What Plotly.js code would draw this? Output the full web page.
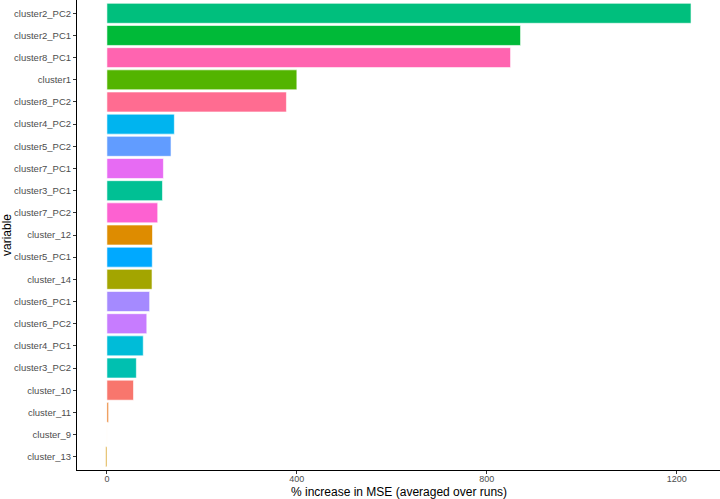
<!DOCTYPE html>
<html>
<head>
<meta charset="utf-8">
<script src="https://cdn.plot.ly/plotly-3.0.1.min.js"></script>
<style>
  html, body { margin: 0; padding: 0; background: #fff; }
  #chart { width: 720px; height: 499px; }
</style>
</head>
<body>
<div id="chart"></div>
<script>
// variables, top to bottom
const variables = [
  "cluster2_PC2", "cluster2_PC1", "cluster8_PC1", "cluster1", "cluster8_PC2",
  "cluster4_PC2", "cluster5_PC2", "cluster7_PC1", "cluster3_PC1", "cluster7_PC2",
  "cluster_12", "cluster5_PC1", "cluster_14", "cluster6_PC1", "cluster6_PC2",
  "cluster4_PC1", "cluster3_PC2", "cluster_10", "cluster_11", "cluster_9", "cluster_13"
];

// % increase in MSE (averaged over runs)
const mseIncrease = [
  1230, 871, 850, 400, 378,
  142, 135, 119, 117, 107,
  96, 95.5, 95, 90, 84,
  76.5, 62, 56, 3.5, 0.3, -2.5
];

// ggplot hue colours per variable
const barColors = [
  "#00BF7D", "#00BA38", "#FF64B0", "#53B400", "#FF6C91",
  "#00B4EF", "#619CFF", "#E76BF3", "#00C094", "#FD61D1",
  "#DE8C00", "#00A9FF", "#A3A500", "#A58AFF", "#C77CFF",
  "#00BCD8", "#00C0B0", "#F8766D", "#EA8331", "#F5E9B0", "#D39200"
];

const xTicks = [0, 400, 800, 1200];

const trace = {
  type: 'bar',
  orientation: 'h',
  y: variables,
  x: mseIncrease,
  marker: {
    color: barColors,
    line: { color: '#ffffff', width: 0.6 }
  },
  hoverinfo: 'x+y'
};

const axisFont = { family: 'Liberation Sans, Arial, sans-serif', size: 9.5, color: '#4D4D4D' };
const titleFont = { family: 'Liberation Sans, Arial, sans-serif', size: 12, color: '#000' };

const layout = {
  width: 720,
  height: 499,
  margin: { l: 77, r: 0, t: 0, b: 29 },
  paper_bgcolor: '#fff',
  plot_bgcolor: '#fff',
  showlegend: false,
  bargap: 0.1,
  xaxis: {
    range: [-63, 1291],
    tickvals: xTicks,
    ticktext: xTicks.map(String),
    ticks: 'outside',
    ticklen: 3,
    tickwidth: 1,
    tickcolor: '#333',
    ticklabelstandoff: -3,
    showline: true,
    linecolor: '#000',
    linewidth: 1,
    showgrid: false,
    zeroline: false,
    tickfont: { family: axisFont.family, size: 9, color: axisFont.color },
    automargin: false
  },
  yaxis: {
    type: 'category',
    categoryorder: 'array',
    categoryarray: variables,
    range: [variables.length - 0.4, -0.6],
    ticks: 'outside',
    ticklen: 3,
    tickwidth: 1,
    tickcolor: '#333',
    showline: true,
    linecolor: '#000',
    linewidth: 1,
    showgrid: false,
    zeroline: false,
    tickfont: axisFont,
    automargin: false,
    title: { text: 'variable', font: titleFont, standoff: 3 }
  },
  annotations: [{
    text: '% increase in MSE (averaged over runs)',
    font: titleFont,
    xref: 'paper', yref: 'paper',
    x: 0.5, y: 0,
    xanchor: 'center', yanchor: 'middle',
    yshift: -22,
    showarrow: false
  }]
};

Plotly.newPlot('chart', [trace], layout, { displayModeBar: false, staticPlot: true });
</script>
</body>
</html>
